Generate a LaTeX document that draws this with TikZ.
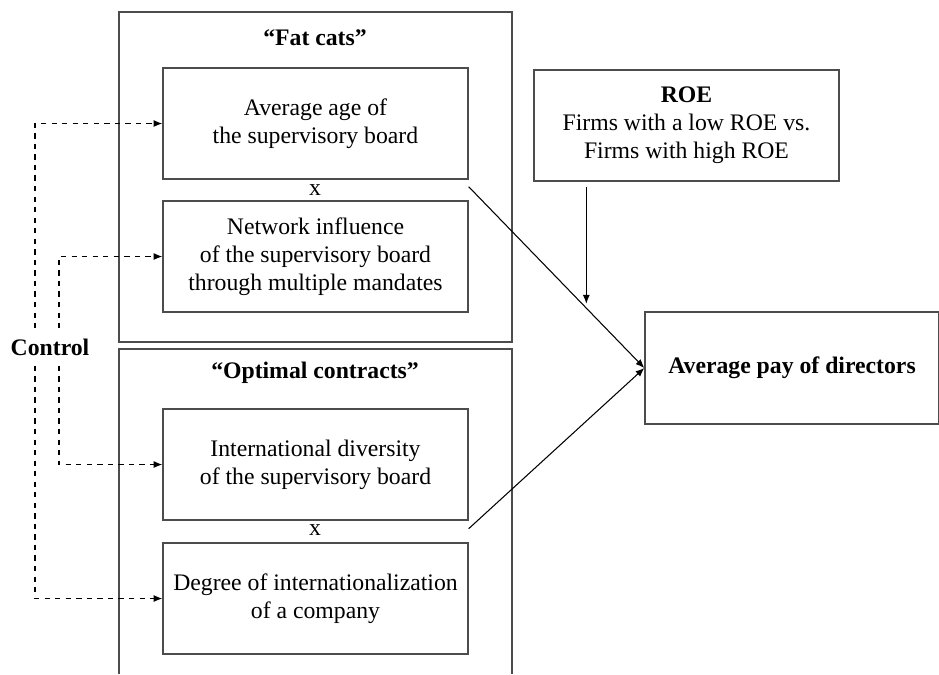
\documentclass[tikz,border=0pt]{standalone}
\usepackage{fontspec}
\setmainfont{Liberation Serif}
\usepackage{tikz}
\usetikzlibrary{arrows.meta}

\tikzset{
    varbox/.style={draw=black!70, line width=0.8pt, minimum width=6.1cm, minimum height=2.22cm, align=center, inner sep=0pt},
    groupbox/.style={draw=black!70, line width=0.8pt},
    ctrlline/.style={dashed, line width=0.6pt, -{Latex[length=5pt,width=4pt]}},
    effect/.style={line width=0.6pt, -{Latex[length=5pt,width=4pt]}}
}

\begin{document}
\begin{tikzpicture}[x=0.02cm, y=-0.02cm, font=\fontsize{13.5}{16}\selectfont]
            \useasboundingbox (0,0) rectangle (939,674);

            % the two groups
            \draw[groupbox] (119,12) rectangle (512,342);
            \draw[groupbox] (119,674) -- (119,349) -- (512,349) -- (512,674);
            \node[font=\fontsize{13.5}{16}\selectfont\bfseries] (fat) at (315,38) {``Fat cats''};
            \node[font=\fontsize{13.5}{16}\selectfont\bfseries] (opt) at (315,373) {``Optimal contracts''};

            % variables
            \node[varbox] (age) at (315.5,123.5) {Average age of\\the supervisory board};
            \node (x1) at (315,190) {x};
            \node[varbox] (net) at (315.5,256.5) {Network influence\\of the supervisory board\\through multiple mandates};
            \node[varbox] (div) at (315.5,464.5) {International diversity\\of the supervisory board};
            \node (x2) at (315,530) {x};
            \node[varbox] (deg) at (315.5,598.5) {Degree of internationalization\\of a company};

            \node[varbox] (roe) at (686.5,125.5) {\textbf{ROE}\\Firms with a low ROE vs.\\Firms with high ROE};
            \node[varbox, minimum width=5.88cm, minimum height=2.24cm, font=\fontsize{13.5}{16}\selectfont\bfseries] (pay) at (792,368) {Average pay of directors};

            \node[font=\fontsize{13.5}{16}\selectfont\bfseries, inner sep=0.2cm] (ctrl) at (50,347) {Control};

            % control variables
            \draw[ctrlline] ([xshift=-0.3cm]ctrl.north) |- (age.west);
            \draw[ctrlline] ([xshift=0.18cm]ctrl.north) |- (net.west);
            \draw[ctrlline] ([xshift=0.18cm]ctrl.south) |- (div.west);
            \draw[ctrlline] ([xshift=-0.3cm]ctrl.south) |- (deg.west);

            % effects
            \draw[effect] ([yshift=-0.14cm]age.south east) -- (pay.west);
            \draw[effect] ([yshift=-0.16cm]div.south east) -- (pay.west);
            \draw[effect] ([xshift=1.06cm,yshift=-0.1cm]roe.south west) -- ([xshift=1.06cm,yshift=-2.44cm]roe.south west);
        \end{tikzpicture}
\end{document}
